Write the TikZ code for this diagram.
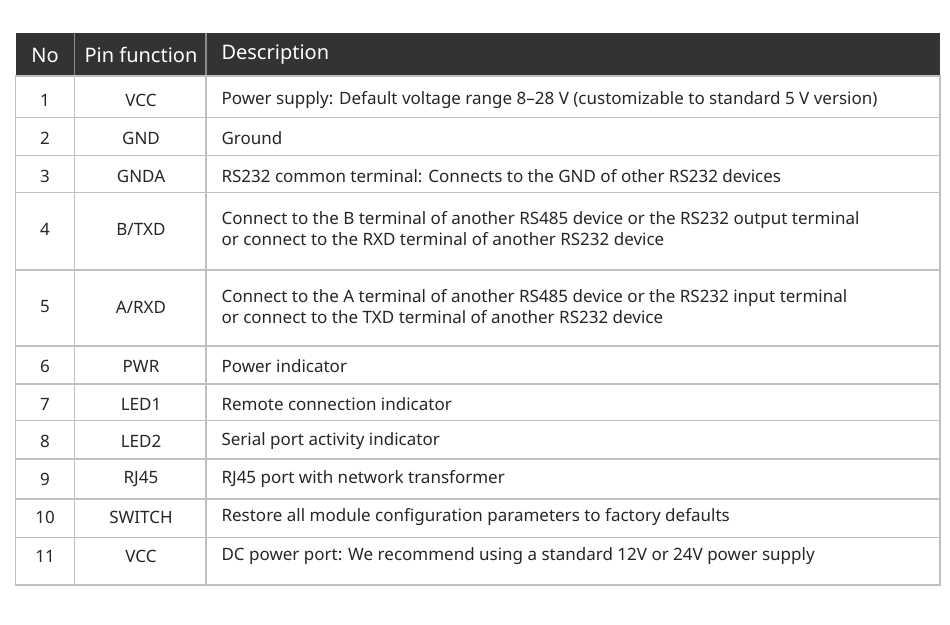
\documentclass[tikz,border=0pt]{standalone}
\usepackage{fontspec}
\setmainfont{Noto Sans}
\begin{document}
\begin{tikzpicture}[x=1pt,y=-1pt,
  grid/.style={draw=black!25,line width=1.2pt},
  hd/.style={text=white,font=\fontsize{20}{24}\selectfont},
  c/.style={font=\fontsize{17}{21}\selectfont,text=black!85},
  d/.style={c,anchor=west,align=left}]
\useasboundingbox (0,0) rectangle (950,624);
\fill[black!80] (15.5,33) rectangle (940,76);
\draw[black!45,line width=1.2pt] (74.5,33) -- (74.5,76) (206,33) -- (206,76);
\foreach \y in {117.7,155.7,192.7,270,346,384,420.7,459,499,537.7}
  \draw[grid] (15.5,\y) -- (940,\y);
\draw[grid] (15.5,76) rectangle (940,585);
\draw[grid] (74.5,76) -- (74.5,585) (206,76) -- (206,585);
\node[hd] (h1) at (45,55) {No};
\node[hd] (h2) at (141,55) {Pin function};
\node[hd,anchor=west] (h3) at (218,55) {Description};
\foreach \n/\y/\p/\t in {
 1/100/VCC/{Power supply: Default voltage range 8–28 V (customizable to standard 5 V version)},
 2/138/GND/Ground,
 3/176/GNDA/RS232 common terminal: Connects to the GND of other RS232 devices,
 4/229/B\slash TXD/{Connect to the B terminal of another RS485 device or the RS232 output terminal\\or connect to the RXD terminal of another RS232 device},
 5/307/A\slash RXD/{Connect to the A terminal of another RS485 device or the RS232 input terminal\\or connect to the TXD terminal of another RS232 device},
 6/366/PWR/Power indicator,
 7/404/LED1/Remote connection indicator,
 8/441/LED2/Serial port activity indicator,
 9/479/RJ45/RJ45 port with network transformer,
 10/517/SWITCH/Restore all module configuration parameters to factory defaults,
 11/556/VCC/{DC power port: We recommend using a standard 12V or 24V power supply}}
{
 \node[c] (n\n) at (45,\y) {\n};
 \node[c] (p\n) at (141,\y) {\p};
 \node[d] (t\n) at (218,\y) {\t};
}
\end{tikzpicture}
\end{document}
